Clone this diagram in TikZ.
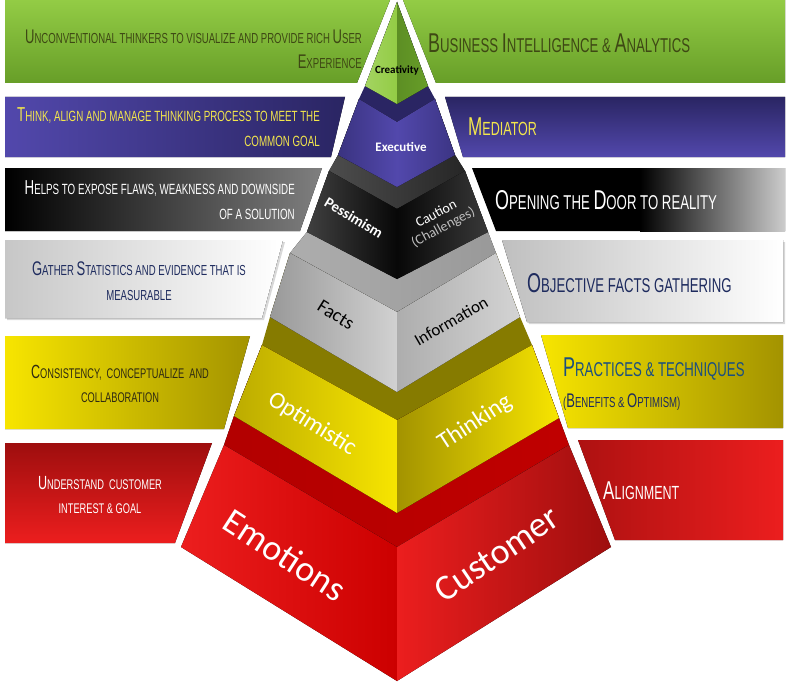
\documentclass[tikz,border=0pt]{standalone}
\usepackage{fontspec}
\setmainfont{Liberation Sans}
\newfontfamily\bnfont[FakeStretch=0.66]{Liberation Sans}
\newfontfamily\pyfont{Carlito}
\usetikzlibrary{shadows}
\newdimen\fsz
\newcommand\Bg[1]{{\fontsize{1.36\fsz}{1.85\fsz}\selectfont #1}}
\definecolor{grnA}{HTML}{93CC45}
\definecolor{grnB}{HTML}{679E28}
\definecolor{olvTxt}{HTML}{3E4814}
\definecolor{purA}{HTML}{5248AC}
\definecolor{purB}{HTML}{2A2563}
\definecolor{ylwTxt}{HTML}{F3E64C}
\definecolor{navyTxt}{HTML}{1E2B5E}
\definecolor{ylwA}{HTML}{F7E500}
\definecolor{ylwB}{HTML}{A39300}
\definecolor{redA}{HTML}{EC1E1E}
\definecolor{redB}{HTML}{9E0E0E}
\definecolor{tealTxt}{HTML}{1B4F80}
\definecolor{darkTxt}{HTML}{2E2A12}
\tikzset{
  sc/.style={font={\bnfont\fsz=#1pt\relax\fontsize{\fsz}{1.72\fsz}\selectfont}, inner sep=0pt},
  py/.style={font={\pyfont\fontsize{#1}{#1}\selectfont}, inner sep=0pt},
  pyb/.style={font={\pyfont\bfseries\fontsize{#1}{#1}\selectfont}, inner sep=0pt},
}
\begin{document}
\begin{tikzpicture}[x=1pt,y=-1pt]
\fill[white] (0,0) rectangle (789,682);
\useasboundingbox (0,0) rectangle (789,682);
% ---------------- banners ----------------
\fill[top color=grnA, bottom color=grnB] (5,0) -- (390,0) -- (357,83) -- (5,83) -- cycle;
\fill[top color=grnA, bottom color=grnB] (403,0) -- (785,0) -- (785,83) -- (436,83) -- cycle;
\fill[left color=purA, right color=purB] (5,97) -- (345,97) -- (331,157) -- (5,157) -- cycle;
\fill[top color=purB, bottom color=purA] (445,97) -- (785,97) -- (785,157) -- (463,157) -- cycle;
\fill[left color=black, right color=black!50] (5,168) -- (322,168) -- (300,231) -- (5,231) -- cycle;
\fill[black] (472,168) -- (785,168) -- (785,231) -- (496,231) -- cycle;
\fill[left color=black, right color=black!20] (640,168) rectangle (785,231);
\fill[left color=black!22, right color=white, drop shadow={opacity=0.3, shadow xshift=2pt, shadow yshift=-2pt}] (5,240) -- (283,240) -- (262,318) -- (5,318) -- cycle;
\fill[left color=black!25, right color=white, drop shadow={opacity=0.3, shadow xshift=2pt, shadow yshift=-2pt}] (502,240) -- (783,240) -- (783,322) -- (527,322) -- cycle;
\fill[left color=ylwA, right color=ylwB] (5,336) -- (250,336) -- (224,429) -- (5,429) -- cycle;
\fill[left color=ylwA, right color=ylwB] (541,335) -- (783,335) -- (783,428) -- (568,428) -- cycle;
\fill[top color=redB, bottom color=redA] (5,443) -- (212,443) -- (175,543) -- (5,543) -- cycle;
\fill[left color=redB!80!redA, right color=redA] (578,440) -- (783,440) -- (783,540) -- (615,540) -- cycle;
% ---------------- pyramid coordinates ----------------
\coordinate (GA) at (397,2);  \coordinate (GL) at (365,86); \coordinate (GF) at (397,104); \coordinate (GR) at (428,86);
\coordinate (PLt) at (359,99); \coordinate (PFt) at (397,122); \coordinate (PRt) at (435,99);
\coordinate (PLb) at (338,155); \coordinate (PFb) at (397,187); \coordinate (PRb) at (455,155);
\coordinate (KLt) at (329,171); \coordinate (KFt) at (397,209); \coordinate (KRt) at (465,171);
\coordinate (KLb) at (307,232); \coordinate (KFb) at (397,279); \coordinate (KRb) at (488,232);
\coordinate (ALt) at (290,253); \coordinate (AFt) at (397,312); \coordinate (ARt) at (496,253);
\coordinate (ALb) at (270,317); \coordinate (AFb) at (397,392); \coordinate (ARb) at (520,317);
\coordinate (YLt) at (262,345); \coordinate (YFt) at (397,420); \coordinate (YRt) at (532,345);
\coordinate (YLb) at (234,416); \coordinate (YFb) at (397,513); \coordinate (YRb) at (559,418);
\coordinate (RLt) at (224,445); \coordinate (RFt) at (397,547); \coordinate (RRt) at (569,445);
\coordinate (RLb) at (181,547); \coordinate (RFb) at (397,681); \coordinate (RRb) at (611,547);
% red layer
\fill[left color=red!70!black, right color=red!75!black] (RLt) -- (YLb) -- (YLt) -- (YRt) -- (YRb) -- (RRt) -- (RFt) -- cycle;
\fill[left color=redA, right color=red!80!black] (RLt) -- (RFt) -- (RFb) -- (RLb) -- cycle;
\fill[left color=redA, right color=redB] (RFt) -- (RRt) -- (RRb) -- (RFb) -- cycle;
% yellow layer
\fill[color={rgb,255:red,134;green,123;blue,0}] (YLt) -- (ALb) -- (ALt) -- (ARt) -- (ARb) -- (YRt) -- (YFt) -- cycle;
\fill[left color=ylwB!70!ylwA, right color=ylwA] (YLt) -- (YFt) -- (YFb) -- (YLb) -- cycle;
\fill[left color=ylwB, right color=ylwA] (YFt) -- (YRt) -- (YRb) -- (YFb) -- cycle;
% gray layer
\fill[left color=black!32, right color=black!40] (ALt) -- (KLb) -- (KLt) -- (KRt) -- (KRb) -- (ARt) -- (AFt) -- cycle;
\fill[left color=black!40, right color=black!18] (ALt) -- (AFt) -- (AFb) -- (ALb) -- cycle;
\fill[left color=black!32, right color=black!17] (AFt) -- (ARt) -- (ARb) -- (AFb) -- cycle;
% black layer
\fill[left color=black!70, right color=black!85] (KLt) -- (PLb) -- (PLt) -- (PRt) -- (PRb) -- (KRt) -- (KFt) -- cycle;
\fill[left color=black!75, right color=black!97] (KLt) -- (KFt) -- (KFb) -- (KLb) -- cycle;
\fill[left color=black!97, right color=black!78] (KFt) -- (KRt) -- (KRb) -- (KFb) -- cycle;
% purple layer
\fill[purB] (PLt) -- (GL) -- (GA) -- (GR) -- (PRt) -- (PFt) -- cycle;
\fill[left color=purB!60!purA, right color=purA] (PLt) -- (PFt) -- (PFb) -- (PLb) -- cycle;
\fill[left color=purA, right color=purB!55!purA] (PFt) -- (PRt) -- (PRb) -- (PFb) -- cycle;
% green pyramid
\fill[left color=grnA!85!white, right color=grnA] (GA) -- (GL) -- (GF) -- cycle;
\fill[left color=grnB!90!black, right color=grnB] (GA) -- (GF) -- (GR) -- cycle;
% ---------------- banner texts ----------------
\node[sc=14.5, olvTxt, anchor=east, align=right] (t1) at (362,49) {\Bg{U}NCONVENTIONAL THINKERS TO VISUALIZE AND PROVIDE RICH \Bg{U}SER\\\Bg{E}XPERIENCE};
\node[sc=20, olvTxt, anchor=west] (t2) at (428,43) {\Bg{B}USINESS \Bg{I}NTELLIGENCE \& \Bg{A}NALYTICS};
\node[sc=14.8, ylwTxt, anchor=east, align=right] (t3) at (320,127) {\Bg{T}HINK, ALIGN AND MANAGE THINKING PROCESS TO MEET THE\\COMMON GOAL};
\node[sc=19, ylwTxt, anchor=west] (t4) at (468,127) {\Bg{M}EDIATOR};
\node[sc=14.8, white, anchor=east, align=right] (t5) at (295,200) {\Bg{H}ELPS TO EXPOSE FLAWS, WEAKNESS AND DOWNSIDE\\OF A SOLUTION};
\node[sc=20, white, anchor=west] (t6) at (495,200) {\Bg{O}PENING THE \Bg{D}OOR TO REALITY};
\node[sc=14.5, navyTxt, align=center] (t7) at (139,281) {\Bg{G}ATHER \Bg{S}TATISTICS AND EVIDENCE THAT IS\\MEASURABLE};
\node[sc=20, navyTxt, anchor=west] (t8) at (527,283) {\Bg{O}BJECTIVE FACTS GATHERING};
\node[sc=14, darkTxt, align=center] (t9) at (120,384) {\Bg{C}ONSISTENCY,\ \ CONCEPTUALIZE\ \ AND\\COLLABORATION};
\node[sc=20, tealTxt, anchor=west, align=left] (t10) at (563,384) {\Bg{P}RACTICES \& TECHNIQUES\\[-3pt]{\color{navyTxt}\fsz=14.5pt\relax\fontsize{\fsz}{16pt}\selectfont(\Bg{B}ENEFITS \& \Bg{O}PTIMISM)}};
\node[sc=14, white, align=center] (t11) at (100,495) {\Bg{U}NDERSTAND\ \ CUSTOMER\\INTEREST \& GOAL};
\node[sc=19, white, anchor=west] (t12) at (603,491) {\Bg{A}LIGNMENT};
% ---------------- pyramid labels ----------------
\node[pyb=11, black] (creat) at (397,70) {Creativity};
\node[pyb=13, white] (exec) at (401,147) {Executive};
\node[pyb=15, white, rotate=-31] (pess) at (354,218) {Pessimism};
\node[font={\pyfont\fontsize{14}{15}\selectfont}, inner sep=0pt, white, rotate=28, align=center] (caut) at (440,221) {Caution\\{\color{black!25}(Challenges)}};
\node[py=19, black, rotate=-32] (facts) at (336,315) {Facts};
\node[py=17, black, rotate=30] (info) at (451,321) {Information};
\node[py=24, white, rotate=-32] (opt) at (312,424) {Optimistic};
\node[py=24, white, rotate=33] (think) at (475,423) {Thinking};
\node[py=36, white, rotate=-33] (emo) at (285,555) {Emotions};
\node[py=36, white, rotate=34] (cust) at (497,554) {Customer};
\end{tikzpicture}
\end{document}
